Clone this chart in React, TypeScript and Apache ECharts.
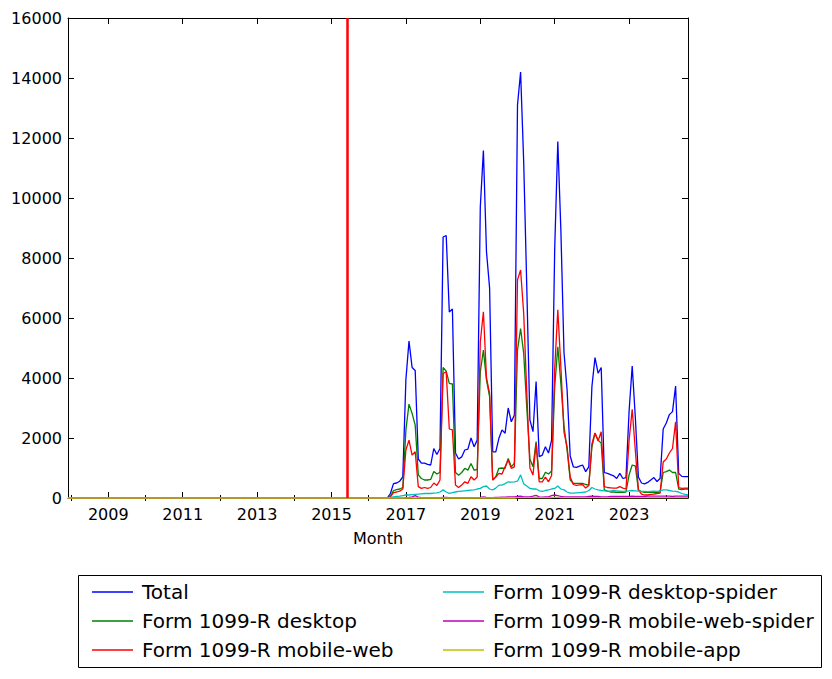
import React, { useEffect, useRef } from "react";
import * as echarts from "echarts";

// Monthly data, first month = 2016-07 (all series are 0 before that, from 2007-12)
// x is expressed in fractional years: year + (month - 1) / 12
const FIRST_YEAR = 2016;
const FIRST_MONTH = 7;
const AXIS_MIN = 2007 + 11 / 12; // 2007-12
const AXIS_MAX = 2024 + 7 / 12; // 2024-08
const MARK_DATE = 2015 + 5 / 12; // 2015-06

const majorYears = [2009, 2011, 2013, 2015, 2017, 2019, 2021, 2023];
const minorYears = [2008, 2010, 2012, 2014, 2016, 2018, 2020, 2022, 2024];
const yTicks = { min: 0, max: 16000, step: 2000 };

const seriesNames = [
  "Total",
  "Form 1099-R desktop",
  "Form 1099-R mobile-web",
  "Form 1099-R desktop-spider",
  "Form 1099-R mobile-web-spider",
  "Form 1099-R mobile-app",
];

const total = [
  0, 150, 480, 500, 560, 700,
  3950, 5230, 4350, 4250, 1300, 1160, 1160, 1120, 1100, 1650, 1450, 1650,
  8700, 8750, 6200, 6300, 1500, 1300, 1370, 1600, 1630, 2000, 1710, 1930,
  9700, 11580, 8200, 7000, 1540, 1540, 1990, 2270, 2160, 3000, 2540, 2770,
  13100, 14200, 11200, 7000, 2600, 2210, 3880, 1380, 1430, 1710, 1500, 1930,
  8300, 11880, 8900, 4850, 3600, 1400, 1040, 1020, 1060, 1100, 880, 1040,
  3710, 4680, 4160, 4350, 850, 820, 780, 740, 650, 820, 650, 680,
  2900, 4400, 2700, 700, 500, 470, 520, 600, 680, 550, 650, 2300,
  2500, 2780, 2880, 3730, 820, 720, 710, 710,
];

const desktop = [
  0, 60, 250, 280, 300, 350,
  2270, 3130, 2820, 2430, 770, 650, 600, 600, 620, 880, 800, 860,
  4350, 4230, 3820, 3800, 850, 760, 850, 990, 930, 1150, 930, 950,
  4200, 4930, 3930, 3380, 600, 710, 990, 1000, 990, 1320, 1040, 1160,
  4930, 5650, 4820, 3000, 1300, 1040, 1880, 650, 650, 860, 800, 900,
  3700, 5040, 3800, 2400, 1600, 600, 490, 490, 490, 490, 450, 430,
  1700, 2160, 1930, 1830, 270, 230, 200, 200, 190, 200, 190, 200,
  770, 1100, 1070, 270, 210, 190, 190, 200, 180, 190, 200, 850,
  880, 930, 850, 850, 300, 280, 300, 300,
];

const mobileWeb = [
  0, 40, 180, 200, 230, 300,
  1600, 1930, 1430, 1540, 380, 320, 350, 320, 350, 500, 420, 600,
  4150, 4210, 2300, 2270, 430, 350, 430, 540, 490, 710, 600, 700,
  5200, 6210, 4000, 3490, 600, 700, 820, 800, 1040, 1270, 990, 1040,
  7270, 7600, 6150, 3500, 1000, 770, 1820, 540, 540, 700, 540, 750,
  4300, 6270, 4350, 2200, 1700, 700, 450, 420, 440, 450, 330, 420,
  1800, 2170, 1900, 2210, 380, 350, 340, 330, 330, 380, 330, 300,
  1930, 2960, 1600, 270, 130, 100, 100, 120, 130, 150, 160, 1200,
  1300, 1500, 1650, 2540, 350, 320, 330, 330,
];

const desktopSpider = [
  0, 20, 40, 50, 60, 80,
  100, 100, 110, 120, 130, 140, 150, 150, 150, 160, 170, 200,
  270, 200, 155, 180, 200, 220, 230, 240, 250, 260, 270, 300,
  320, 380, 400, 300, 270, 330, 430, 430, 480, 540, 530, 540,
  560, 770, 470, 400, 320, 300, 300, 240, 220, 250, 270, 300,
  320, 400, 300, 270, 200, 160, 160, 170, 180, 190, 200, 250,
  350, 300, 270, 250, 240, 230, 230, 250, 240, 230, 220, 230,
  240, 250, 240, 230, 220, 220, 210, 220, 230, 220, 240, 270,
  270, 250, 230, 220, 200, 150, 120, 100,
];

const mobileWebSpider = [
  0, 0, 0, 0, 0, 0,
  10, 20, 40, 80, 30, 10, 10, 10, 10, 10, 10, 10,
  20, 20, 10, 10, 10, 10, 10, 10, 10, 10, 10, 10,
  20, 40, 20, 10, 10, 20, 20, 30, 30, 40, 40, 40,
  50, 60, 40, 40, 40, 60, 90, 40, 30, 40, 40, 80,
  100, 80, 50, 40, 40, 40, 40, 40, 40, 40, 40, 50,
  60, 50, 50, 40, 40, 40, 50, 50, 50, 50, 50, 50,
  50, 60, 50, 50, 50, 50, 60, 60, 60, 60, 60, 60,
  60, 60, 50, 60, 60, 60, 60, 60,
];

const mobileApp = [
  0, 0, 0, 0, 0, 0,
  0, 0, 0, 0, 0, 0, 0, 0, 0, 0, 0, 0,
  0, 0, 0, 0, 0, 0, 0, 0, 0, 0, 0, 0,
  0, 0, 0, 0, 0, 0, 0, 0, 0, 0, 0, 0,
  10, 10, 10, 10, 10, 10, 20, 10, 10, 10, 10, 10,
  20, 20, 10, 10, 10, 10, 10, 10, 10, 10, 10, 10,
  10, 10, 10, 10, 10, 10, 10, 10, 10, 10, 10, 10,
  10, 10, 10, 10, 10, 10, 10, 10, 10, 10, 10, 10,
  10, 10, 10, 10, 10, 10, 10, 10,
];

const seriesValues = [total, desktop, mobileWeb, desktopSpider, mobileWebSpider, mobileApp];
const seriesColors = ["#0000ff", "#008000", "#ff0000", "#00bfbf", "#bf00bf", "#bfbf00"];

function monthPos(i: number): number {
  const idx = FIRST_MONTH - 1 + i;
  return FIRST_YEAR + Math.floor(idx / 12) + (idx % 12) / 12;
}

const FONT = "DejaVu Sans";

export default function App() {
  const ref = useRef<HTMLDivElement>(null);
  useEffect(() => {
    if (!ref.current) return;
    const chart = echarts.init(ref.current, undefined, { renderer: "svg" });

    const xBase = {
      type: "value" as const,
      min: AXIS_MIN,
      max: AXIS_MAX,
      gridIndex: 0,
      splitLine: { show: false },
      axisPointer: { show: false },
    };

    const xAxes = [
      {
        ...xBase,
        position: "bottom",
        axisLine: { show: true, onZero: false, lineStyle: { color: "#000", width: 1 } },
        axisTick: { show: true, inside: true, length: 6, customValues: majorYears, lineStyle: { color: "#000" } },
        axisLabel: {
          show: true,
          customValues: majorYears,
          formatter: (v: number) => String(Math.round(v)),
          fontSize: 16,
          fontFamily: FONT,
          color: "#000",
          margin: 8,
        },
        name: "Month",
        nameLocation: "middle",
        nameGap: 32,
        nameTextStyle: { fontSize: 16, fontFamily: FONT, color: "#000" },
      },
      {
        ...xBase,
        position: "bottom",
        axisLine: { show: false },
        axisTick: { show: true, inside: true, length: 3, customValues: minorYears, lineStyle: { color: "#000" } },
        axisLabel: { show: false },
      },
      {
        ...xBase,
        position: "top",
        axisLine: { show: true, onZero: false, lineStyle: { color: "#000", width: 1 } },
        axisTick: { show: true, inside: true, length: 6, customValues: majorYears, lineStyle: { color: "#000" } },
        axisLabel: { show: false },
      },
      {
        ...xBase,
        position: "top",
        axisLine: { show: false },
        axisTick: { show: true, inside: true, length: 3, customValues: minorYears, lineStyle: { color: "#000" } },
        axisLabel: { show: false },
      },
    ];

    const yBase = {
      type: "value" as const,
      min: yTicks.min,
      max: yTicks.max,
      interval: yTicks.step,
      gridIndex: 0,
      splitLine: { show: false },
    };
    const yAxes = [
      {
        ...yBase,
        position: "left",
        axisLine: { show: true, onZero: false, lineStyle: { color: "#000", width: 1 } },
        axisTick: { show: true, inside: true, length: 6, lineStyle: { color: "#000" } },
        axisLabel: {
          show: true,
          fontSize: 16,
          fontFamily: FONT,
          color: "#000",
          margin: 6,
          formatter: (v: number) => String(v),
        },
      },
      {
        ...yBase,
        position: "right",
        axisLine: { show: true, onZero: false, lineStyle: { color: "#000", width: 1 } },
        axisTick: { show: true, inside: true, length: 6, lineStyle: { color: "#000" } },
        axisLabel: { show: false },
      },
    ];

    const series = seriesNames.map((name, si) => {
      const vals = seriesValues[si];
      const data: [number, number][] = [[AXIS_MIN, 0]];
      vals.forEach((v, i) => data.push([monthPos(i), v]));
      const s: any = {
        name,
        type: "line",
        xAxisIndex: 0,
        yAxisIndex: 0,
        data,
        symbol: "none",
        showSymbol: false,
        clip: false,
        color: seriesColors[si],
        lineStyle: { color: seriesColors[si], width: 1.3 },
      };
      if (si === 0) {
        s.markLine = {
          silent: true,
          symbol: ["none", "none"],
          label: { show: false },
          lineStyle: { color: "#ff0000", width: 2.5, type: "solid" },
          data: [{ xAxis: MARK_DATE }],
        };
      }
      return s;
    });

    const legendCommon = {
      orient: "vertical" as const,
      top: 582,
      padding: 0,
      itemGap: 9,
      itemWidth: 41,
      itemHeight: 1.3,
      icon: "rect",
      selectedMode: false,
      textStyle: { fontSize: 20, fontFamily: FONT, color: "#000", lineHeight: 20, padding: [0, 0, 0, 4] },
    };

    chart.setOption({
      animation: false,
      textStyle: { fontFamily: FONT },
      grid: { left: 68, top: 18, width: 620, height: 480, containLabel: false },
      xAxis: xAxes,
      yAxis: yAxes,
      legend: [
        { ...legendCommon, left: 92, data: seriesNames.slice(0, 3) },
        { ...legendCommon, left: 443, data: seriesNames.slice(3, 6) },
      ],
      graphic: [
        {
          type: "rect",
          z: 0,
          silent: true,
          shape: { x: 78.5, y: 575.5, width: 743, height: 92 },
          style: { fill: "#fff", stroke: "#000", lineWidth: 1 },
        },
      ],
      series,
    });

    return () => chart.dispose();
  }, []);

  return (
    <div
      ref={ref}
      style={{ position: "fixed", left: 0, top: 0, width: 832, height: 679, background: "#fff" }}
    />
  );
}
